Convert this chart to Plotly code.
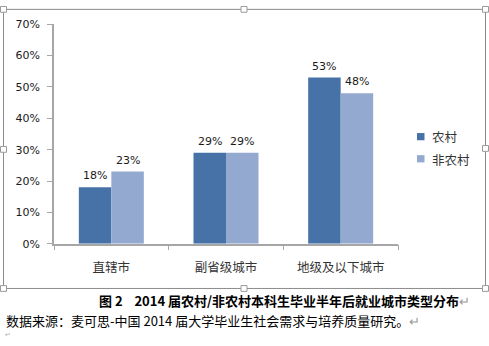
import plotly.graph_objects as go

# Employment city type six months after graduation, 2014 undergraduates
categories = ["直辖市", "副省级城市", "地级及以下城市"]
rural = [18, 29, 53]
non_rural = [23, 29, 48]
series_names = ["农村", "非农村"]
y_ticks = [0, 10, 20, 30, 40, 50, 60, 70]

W, H = 489, 346
DARK = "#4672A8"
LIGHT = "#94A9CF"
AXIS = "#A6A6A6"
TXT = "#1A1A1A"
CJK = "Noto Sans CJK SC"
LAT = "DejaVu Sans"


def px(x):
    return x / W


def py(y):
    return 1 - y / H


fig = go.Figure()
fig.add_trace(go.Bar(x=categories, y=rural, name=series_names[0],
                     marker=dict(color=DARK, line=dict(width=0)), showlegend=False))
fig.add_trace(go.Bar(x=categories, y=non_rural, name=series_names[1],
                     marker=dict(color=LIGHT, line=dict(width=0)), showlegend=False))

# value labels above each bar
annotations = []
for values, shift in ((rural, -16.3), (non_rural, 16.3)):
    for cat, v in zip(categories, values):
        annotations.append(dict(
            x=cat, y=v, xref="x", yref="y", text=f"{v}%", showarrow=False,
            xshift=shift, yshift=3, yanchor="bottom", xanchor="center",
            font=dict(family=LAT, size=11, color=TXT)))

# legend: colour swatches with series names
shapes = []
for name, color, ly in ((series_names[0], DARK, 136), (series_names[1], LIGHT, 159)):
    shapes.append(dict(type="rect", xref="paper", yref="paper",
                       x0=px(417), x1=px(424.5), y0=py(ly - 4), y1=py(ly + 3.5),
                       line=dict(width=0), fillcolor=color))
    annotations.append(dict(
        x=px(430), y=py(ly), xref="paper", yref="paper", xanchor="left", yanchor="middle",
        showarrow=False, text=name, font=dict(family=CJK, size=12.5, color="#333333")))

# figure caption and source line below the chart frame
annotations.append(dict(
    x=px(97), y=py(306), xref="paper", yref="paper", xanchor="left", yanchor="middle",
    showarrow=False,
    text="<b>图 2 \u00a0\u00a0 2014 届农村/非农村本科生毕业半年后就业城市类型分布</b>"
         "<span style='color:#999999'>↵</span>",
    font=dict(family=CJK, size=13, color="#000000")))
annotations.append(dict(
    x=px(4), y=py(327), xref="paper", yref="paper", xanchor="left", yanchor="middle",
    showarrow=False,
    text="数据来源：麦可思-中国 2014 届大学毕业生社会需求与培养质量研究。"
         "<span style='color:#999999'>↵</span>",
    font=dict(family=CJK, size=13, color="#000000")))
annotations.append(dict(
    x=px(3), y=py(341), xref="paper", yref="paper", xanchor="left", yanchor="middle",
    showarrow=False, text="↵", font=dict(family=CJK, size=7, color="#B0B0B0")))

# chart frame with its sizing handles
shapes.append(dict(type="rect", xref="paper", yref="paper",
                   x0=px(3.5), x1=px(485.5), y0=py(3.5), y1=py(293.5),
                   line=dict(color="#8C8C8C", width=1), fillcolor="rgba(0,0,0,0)"))
for hx, hy in [(3.5, 3.5), (244, 3.5), (485.5, 3.5), (3.5, 149), (485.5, 148),
               (3.5, 293.5), (244, 293.5), (485.5, 293.5)]:
    shapes.append(dict(type="rect", xref="paper", yref="paper",
                       x0=px(hx - 3), x1=px(hx + 3), y0=py(hy - 3), y1=py(hy + 3),
                       line=dict(color="#9A9A9A", width=1), fillcolor="#FFFFFF"))

fig.update_layout(
    width=W, height=H,
    margin=dict(l=0, r=0, t=0, b=0),
    paper_bgcolor="#FFFFFF", plot_bgcolor="#FFFFFF",
    barmode="group", bargap=0.433, bargroupgap=0,
    showlegend=False,
    xaxis=dict(domain=[px(54), px(398)], showline=True, linecolor=AXIS, linewidth=1.5,
               ticks="outside", tickson="boundaries", ticklen=5, tickcolor=AXIS,
               tickwidth=1.2, ticklabelstandoff=12,
               tickfont=dict(family=CJK, size=12.5, color="#333333"),
               showgrid=False, fixedrange=True),
    yaxis=dict(domain=[py(247), py(19)], range=[0, 70], tickmode="array",
               tickvals=y_ticks, ticktext=[f"{t}%" for t in y_ticks],
               showline=True, linecolor=AXIS, linewidth=1.5,
               ticks="outside", ticklen=5, tickcolor=AXIS, tickwidth=1.2,
               ticklabelstandoff=5,
               tickfont=dict(family=LAT, size=11, color=TXT),
               showgrid=False, zeroline=False, fixedrange=True),
    annotations=annotations,
    shapes=shapes,
)

fig.write_html("out.html")
